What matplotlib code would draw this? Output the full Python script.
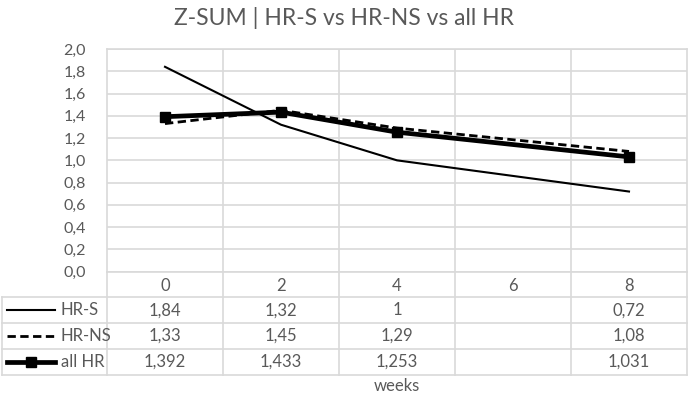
import numpy as np
import matplotlib
matplotlib.use('Agg')
import matplotlib.pyplot as plt

plt.rcParams['font.family'] = ['Lato', 'DejaVu Sans']

# datos
weeks = [0, 2, 4, 6, 8]
hr_s = [1.84, 1.32, 1, None, 0.72]
hr_ns = [1.33, 1.45, 1.29, None, 1.08]
all_hr = [1.392, 1.433, 1.253, None, 1.031]
series_names = ['HR-S', 'HR-NS', 'all HR']
title = 'Z-SUM | HR-S vs HR-NS vs all HR'

W, H = 689, 397
grid_c = '#d9d9d9'
text_c = '#595959'
fs = 12

styles = [
    dict(color='black', lw=1.5, ls='-'),
    dict(color='black', lw=2.0, ls=(0, (3, 1.6))),
    dict(color='black', lw=3.4, ls='-'),
]
has_marker = [False, False, True]

fig = plt.figure(figsize=(W / 100, H / 100), dpi=100)

# area del grafico
left, right, top, bottom = 107, 687, 49, 271.7
ax = fig.add_axes([left / W, 1 - bottom / H, (right - left) / W, (bottom - top) / H])
ax.set_xlim(-1, 9)
ax.set_ylim(0, 2)
ax.set_yticks(np.arange(0, 2.01, 0.2))
ax.set_yticklabels([f'{v:.1f}'.replace('.', ',') for v in np.arange(0, 2.01, 0.2)],
                   fontsize=11.5, color=text_c)
ax.tick_params(axis='y', length=0, pad=15)
ax.set_xticks([])
ax.grid(axis='y', color=grid_c, lw=1.2)
for b in [1, 3, 5, 7]:
    ax.axvline(b, color=grid_c, lw=1.2)
for s in ax.spines.values():
    s.set_color(grid_c)
    s.set_linewidth(1.2)
ax.set_axisbelow(True)

all_series = [hr_s, hr_ns, all_hr]
for vals, st, mk in zip(all_series, styles, has_marker):
    xs = [w for w, v in zip(weeks, vals) if v is not None]
    ys = [v for v in vals if v is not None]
    ax.plot(xs, ys, **st, marker='s' if mk else None, ms=7.5, zorder=3)

fig.text(0.5, 1 - 18 / H, title, ha='center', va='center',
         fontsize=16.5, color=text_c)

# tabla de datos
tleft, tbottom = 2, 374.5
unit = (right - left) / 10
x0 = -1 - (left - tleft) / unit
tax = fig.add_axes([tleft / W, 1 - tbottom / H, (right - tleft) / W, (tbottom - bottom) / H])
tax.set_xlim(x0, 9)
tax.set_ylim(4, 0)
tax.axis('off')

for yy in [1, 2, 3, 4]:
    tax.plot([x0, 9], [yy, yy], color=grid_c, lw=1.2, clip_on=False)
tax.plot([x0, x0], [1, 4], color=grid_c, lw=1.2, clip_on=False)
for b in [-1, 1, 3, 5, 7, 9]:
    tax.plot([b, b], [0, 4], color=grid_c, lw=1.2, clip_on=False)

for w in weeks:
    tax.text(w, 0.55, str(w), ha='center', va='center', fontsize=fs, color=text_c)

for i, (name, vals, st, mk) in enumerate(zip(series_names, all_series, styles, has_marker)):
    yc = i + 1.5
    tax.plot([x0 + 5 / unit, x0 + 53 / unit], [yc, yc], clip_on=False, **st)
    if mk:
        tax.plot([x0 + 29 / unit], [yc], marker='s', ms=7.5, color='black', clip_on=False)
    tax.text(x0 + 59 / unit, yc, name, ha='left', va='center', fontsize=fs, color=text_c)
    for w, v in zip(weeks, vals):
        if v is not None:
            tax.text(w, yc, f'{v:g}'.replace('.', ','), ha='center', va='center',
                     fontsize=fs, color=text_c)

fig.text((left + right) / 2 / W, 1 - 386 / H, 'weeks', ha='center', va='center',
         fontsize=fs, color=text_c)

fig.savefig('out.png', dpi=100)
